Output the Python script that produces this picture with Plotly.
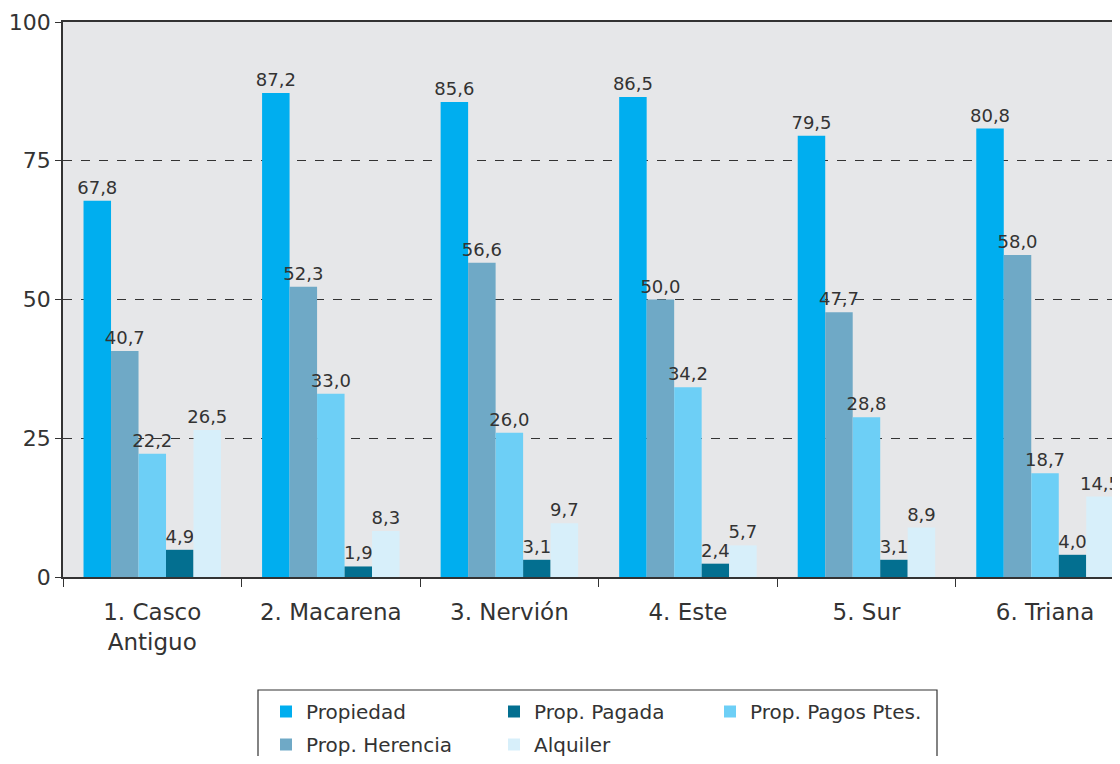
import plotly.graph_objects as go

categories = ["1. Casco<br>Antiguo", "2. Macarena", "3. Nervión", "4. Este", "5. Sur", "6. Triana"]
propiedad = [67.8, 87.2, 85.6, 86.5, 79.5, 80.8]
herencia = [40.7, 52.3, 56.6, 50.0, 47.7, 58.0]
pagos_ptes = [22.2, 33.0, 26.0, 34.2, 28.8, 18.7]
pagada = [4.9, 1.9, 3.1, 2.4, 3.1, 4.0]
alquiler = [26.5, 8.3, 9.7, 5.7, 8.9, 14.5]
y_ticks = [0, 25, 50, 75, 100]

FONT = "DejaVu Sans"
TXT = "#333333"

# page body has an 8px margin; figure occupies screen 8..1120 x 8..756
W, H = 1112, 748
# plot area in screen pixels: x 63..1120, y 22..577
L, R, T, B = 63, 1120, 22, 577
def px_x(p):
    return (p - L) / (R - L)
def px_y(p):
    return (B - p) / (B - T)

series = [
    ("Propiedad", propiedad, "#00AEEF", "legend"),
    ("Prop. Herencia", herencia, "#6FA9C6", "legend"),
    ("Prop. Pagos Ptes.", pagos_ptes, "#6DCFF6", "legend3"),
    ("Prop. Pagada", pagada, "#036F90", "legend2"),
    ("Alquiler", alquiler, "#D7EFFA", "legend2"),
]

fig = go.Figure()
for name, vals, color, leg in series:
    fig.add_trace(go.Bar(
        x=categories, y=vals, name=name, marker=dict(color=color, line=dict(width=0)),
        text=vals, texttemplate="%{y:.1f}", textposition="outside",
        textfont=dict(family=FONT, size=18, color=TXT),
        constraintext="none", cliponaxis=False,
        legend=leg, legendgroup=name,
    ))

leg_common = dict(
    orientation="v", yanchor="top", xanchor="left",
    bgcolor="rgba(0,0,0,0)", borderwidth=0,
    font=dict(family=FONT, size=20, color=TXT),
    traceorder="grouped", tracegroupgap=4,
)
legend_top = px_y(692)

fig.update_layout(
    width=W, height=H,
    margin=dict(l=L - 8, r=0, t=T - 8, b=(H + 8) - B, autoexpand=False),
    paper_bgcolor="white", plot_bgcolor="#E6E7E9",
    separators=",.",
    barmode="group", bargap=0.23, bargroupgap=0,
    font=dict(family=FONT, color=TXT),
    showlegend=True,
    legend=dict(x=px_x(266), y=legend_top, **leg_common),
    legend2=dict(x=px_x(494), y=legend_top, **leg_common),
    legend3=dict(x=px_x(710), y=legend_top, **leg_common),
    shapes=[dict(
        type="rect", xref="paper", yref="paper",
        x0=px_x(258), x1=px_x(937), y0=px_y(690), y1=px_y(780),
        line=dict(color=TXT, width=1.2), fillcolor="rgba(0,0,0,0)", layer="above",
    )],
)
fig.update_xaxes(
    range=[-0.5, 5.42], showline=True, linecolor=TXT, linewidth=1.5, mirror=True,
    ticks="outside", tickson="boundaries", ticklen=8, tickcolor=TXT,
    ticklabelstandoff=14,
    tickfont=dict(family=FONT, size=23, color=TXT), showgrid=False,
)
fig.update_yaxes(
    range=[0, 100], tickvals=y_ticks, showline=True, linecolor=TXT, linewidth=1.5,
    ticks="outside", ticklen=6, tickcolor=TXT,
    tickfont=dict(family=FONT, size=22, color=TXT),
    showgrid=True, gridcolor=TXT, gridwidth=1, griddash="dash", zeroline=False,
)

fig.write_html("out.html")
